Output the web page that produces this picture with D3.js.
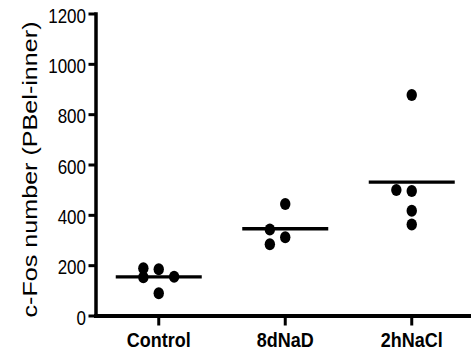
<!doctype html>
<html>
<head>
  <title>c-Fos number (PBel-inner)</title>
  <meta charset="UTF-8">
  <script src="https://d3js.org/d3.v7.min.js"></script>
  <style>
    body { margin: 0; background: #fff; }
    svg { display: block; font-family: "Liberation Sans", Arial, sans-serif; }
  </style>
</head>
<body>
  <div id="svg_area"></div>
</body>
</html>
<script>
// groups along the x axis
var groups = ["Control", "8dNaD", "2hNaCl"];

// c-Fos counts per animal
var controlValues = [184, 88, 188, 152, 154];
var nadValues = [443, 311, 342, 283];
var naclValues = [876, 495, 499, 416, 362];

var yTicks = [0, 200, 400, 600, 800, 1000, 1200];

var width = 471, height = 354;

var svg = d3.select("#svg_area").append("svg")
    .attr("width", width)
    .attr("height", height);

// scales
var yScale = d3.scaleLinear()
    .domain([0, 1200])
    .range([315.5, 13.5]);

var xScale = d3.scaleBand()
    .domain(groups)
    .range([95.5, 475]);

// spread points that sit on top of each other into side columns
var dodgeStep = 15.4;
function dodge(values, thr) {
  var placed = [];
  var slots = [0, -1, 1, -2, 2, -3, 3];
  return values.map(function (v) {
    var py = yScale(v);
    var s = slots.find(function (s) {
      return !placed.some(function (p) { return p.s === s && Math.abs(p.py - py) < thr; });
    });
    placed.push({ s: s, py: py });
    return { v: v, s: s };
  });
}

var series = [controlValues, nadValues, naclValues].map(function (vals, i) {
  return { group: groups[i], points: dodge(vals, 8.5), mean: d3.mean(vals) };
});

// y axis
var yAxis = svg.append("g")
    .attr("transform", "translate(95.5,0)")
    .call(d3.axisLeft(yScale).tickValues(yTicks).tickFormat(d3.format("d")).tickSize(7).tickSizeOuter(0));

yAxis.select(".domain").attr("stroke-width", 3.5).attr("stroke-linecap", "square");
yAxis.selectAll(".tick line").attr("stroke-width", 3);
yAxis.selectAll(".tick text")
    .attr("x", null)
    .attr("dy", "0.42em")
    .attr("transform", "translate(-9.5,0) scale(1,1.2)")
    .attr("font-size", "17px")
    .attr("fill", "#000");

// x axis
var xAxis = svg.append("g")
    .attr("transform", "translate(0,315.5)")
    .call(d3.axisBottom(xScale).tickSize(10).tickSizeOuter(0));

xAxis.select(".domain").attr("stroke-width", 4).attr("stroke-linecap", "square");
xAxis.selectAll(".tick line").attr("stroke-width", 3);
xAxis.selectAll(".tick text")
    .attr("y", null)
    .attr("dy", null)
    .attr("transform", "translate(0,31.8) scale(1,1.1)")
    .attr("font-size", "18px")
    .attr("font-weight", "bold")
    .attr("fill", "#000");

// y axis title
svg.append("text")
    .attr("transform", "translate(37,169.5) rotate(-90)")
    .attr("text-anchor", "middle")
    .attr("font-size", "21px")
    .attr("textLength", 296)
    .attr("lengthAdjust", "spacingAndGlyphs")
    .text("c-Fos number (PBel-inner)");

// groups of points + mean line
var g = svg.selectAll(".grp")
    .data(series)
    .enter()
    .append("g")
    .attr("class", "grp");

g.append("line")
    .attr("x1", function (d) { return xScale(d.group) + xScale.bandwidth() / 2 - 43; })
    .attr("x2", function (d) { return xScale(d.group) + xScale.bandwidth() / 2 + 43; })
    .attr("y1", function (d) { return yScale(d.mean); })
    .attr("y2", function (d) { return yScale(d.mean); })
    .attr("stroke", "#000")
    .attr("stroke-width", 3.3);

g.selectAll("ellipse")
    .data(function (d) {
      return d.points.map(function (p) { return { group: d.group, v: p.v, s: p.s }; });
    })
    .enter()
    .append("ellipse")
    .attr("cx", function (d) { return xScale(d.group) + xScale.bandwidth() / 2 + d.s * dodgeStep; })
    .attr("cy", function (d) { return yScale(d.v); })
    .attr("rx", 5.2)
    .attr("ry", 6)
    .attr("fill", "#000");
</script>
